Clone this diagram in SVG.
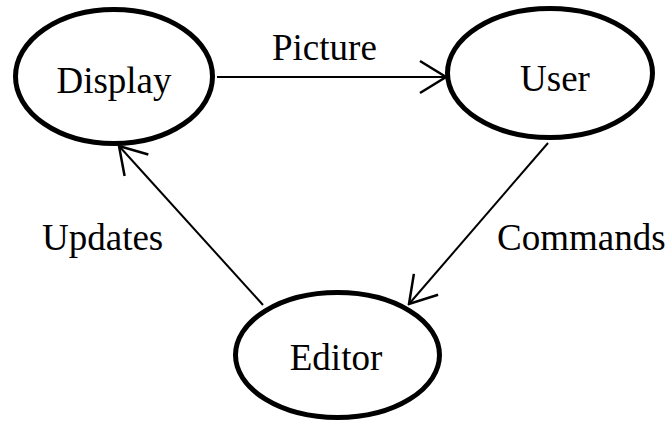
<svg xmlns="http://www.w3.org/2000/svg" width="667" height="423" viewBox="0 0 667 423">
  <style>
    .node ellipse { fill: #ffffff; stroke: #000000; stroke-width: 5; }
    .label { font-family: "Liberation Serif", "Times New Roman", serif; font-size: 37px; fill: #000000; }
    .edge { fill: none; stroke: #000000; stroke-width: 2; }
  </style>
  <defs>
    <marker id="open-arrow" viewBox="0 0 30 36" refX="28" refY="18" markerWidth="30" markerHeight="36" markerUnits="userSpaceOnUse" orient="auto">
      <path d="M 2 2 L 28 18 L 2 34" fill="none" stroke="#000000" stroke-width="2.5"/>
    </marker>
  </defs>
  <rect width="667" height="423" fill="#ffffff"/>

  <g id="connectors">
    <line class="edge" x1="217" y1="77" x2="446" y2="77" marker-end="url(#open-arrow)"/>
    <line class="edge" x1="263" y1="305" x2="119" y2="146" marker-end="url(#open-arrow)"/>
    <line class="edge" x1="548" y1="143" x2="409" y2="304" marker-end="url(#open-arrow)"/>
    <text class="label" x="272" y="60">Picture</text>
    <text class="label" x="42" y="250">Updates</text>
    <text class="label" x="497" y="250">Commands</text>
  </g>

  <g id="display" class="node">
    <ellipse cx="114" cy="76.5" rx="98.5" ry="67"/>
    <text class="label" x="114" y="93" text-anchor="middle">Display</text>
  </g>

  <g id="user" class="node">
    <ellipse cx="550" cy="73" rx="102.5" ry="64.5"/>
    <text class="label" x="555" y="91" text-anchor="middle">User</text>
  </g>

  <g id="editor" class="node">
    <ellipse cx="337.5" cy="355" rx="102" ry="62.5"/>
    <text class="label" x="336" y="370" text-anchor="middle">Editor</text>
  </g>
</svg>
